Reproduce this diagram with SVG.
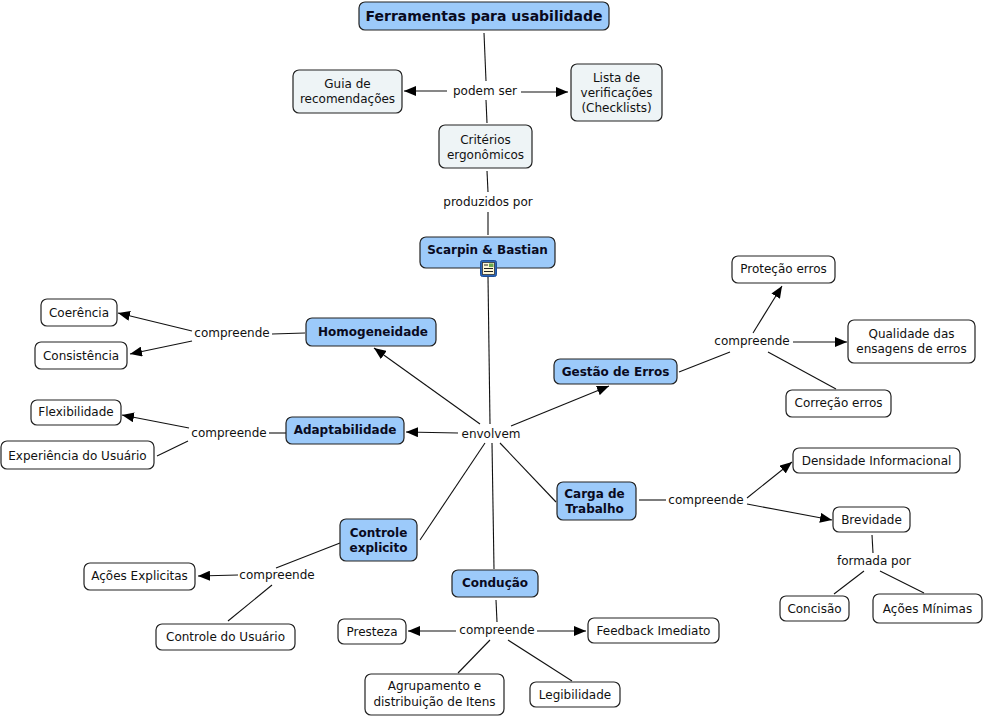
<svg xmlns="http://www.w3.org/2000/svg" width="984" height="718" viewBox="0 0 984 718">
<defs>
<marker id="ah" viewBox="0 0 12 10" refX="12" refY="5" markerWidth="12" markerHeight="10" markerUnits="userSpaceOnUse" orient="auto">
<path d="M0,0 L12,5 L0,10 Z" fill="#000"/>
</marker>
<style>
.b{fill:#9ccafa;stroke:#222;stroke-width:1.2}
.g{fill:#eef4f6;stroke:#222;stroke-width:1.2}
.w{fill:#fff;stroke:#222;stroke-width:1.2}
text{font-family:"DejaVu Sans",Verdana,sans-serif;font-size:12px;fill:#111;text-anchor:middle}
.t{font-weight:bold;fill:#0a0a1e}
.big{font-size:14px}
.l{fill:#111}
#connectors line{stroke:#111;stroke-width:1.1}
#connectors line.a{marker-end:url(#ah)}
</style>
</defs>
<rect width="984" height="718" fill="#fff"/>
<g id="connectors">
<line x1="484" y1="33" x2="486" y2="81"/>
<line x1="486" y1="100" x2="487" y2="123"/>
<line class="a" x1="447" y1="91" x2="404" y2="91"/>
<line class="a" x1="521" y1="92" x2="568" y2="92"/>
<line x1="487" y1="171" x2="488" y2="192"/>
<line x1="488" y1="212" x2="488" y2="235"/>
<line x1="488" y1="277" x2="490" y2="424"/>
<line class="a" x1="480" y1="424" x2="374" y2="348"/>
<line class="a" x1="458" y1="433" x2="406" y2="432"/>
<line class="a" x1="511" y1="426" x2="609" y2="386"/>
<line x1="500" y1="443" x2="556" y2="502"/>
<line x1="485" y1="443" x2="420" y2="540"/>
<line x1="492" y1="443" x2="494" y2="569"/>
<line x1="305" y1="333" x2="272" y2="334"/>
<line class="a" x1="192" y1="331" x2="118" y2="313"/>
<line class="a" x1="192" y1="341" x2="130" y2="354"/>
<line x1="286" y1="433" x2="269" y2="433"/>
<line class="a" x1="189" y1="428" x2="122" y2="415"/>
<line x1="188" y1="441" x2="157" y2="456"/>
<line x1="679" y1="372" x2="730" y2="352"/>
<line class="a" x1="753" y1="333" x2="782" y2="286"/>
<line class="a" x1="793" y1="342" x2="847" y2="342"/>
<line x1="768" y1="352" x2="836" y2="389"/>
<line x1="639" y1="500" x2="666" y2="500"/>
<line class="a" x1="747" y1="498" x2="792" y2="462"/>
<line class="a" x1="747" y1="504" x2="832" y2="520"/>
<line x1="872" y1="535" x2="873" y2="553"/>
<line x1="864" y1="571" x2="834" y2="594"/>
<line x1="880" y1="571" x2="924" y2="593"/>
<line x1="340" y1="543" x2="276" y2="568"/>
<line class="a" x1="238" y1="575" x2="198" y2="576"/>
<line x1="272" y1="585" x2="228" y2="621"/>
<line x1="496" y1="600" x2="497" y2="622"/>
<line class="a" x1="456" y1="631" x2="408" y2="631"/>
<line class="a" x1="537" y1="631" x2="586" y2="631"/>
<line x1="490" y1="640" x2="458" y2="673"/>
<line x1="508" y1="640" x2="572" y2="681"/>
</g>
<g id="labels">
<text class="l" x="485" y="95">podem ser</text>
<text class="l" x="488" y="206">produzidos por</text>
<text class="l" x="491" y="438">envolvem</text>
<text class="l" x="232" y="337">compreende</text>
<text class="l" x="229" y="437">compreende</text>
<text class="l" x="752" y="345">compreende</text>
<text class="l" x="706" y="504">compreende</text>
<text class="l" x="874" y="565">formada por</text>
<text class="l" x="277" y="579">compreende</text>
<text class="l" x="497" y="634">compreende</text>
</g>
<g id="n-ferramentas"><rect class="b" x="359" y="2" width="250" height="28" rx="6"/><text class="t big" x="484" y="21">Ferramentas para usabilidade</text></g>
<g id="n-guia"><rect class="g" x="293" y="70" width="109" height="43" rx="6"/><text x="347.5" y="88">Guia de</text><text x="347.5" y="103">recomendações</text></g>
<g id="n-lista"><rect class="g" x="571" y="64" width="91" height="57" rx="6"/><text x="616.5" y="82">Lista de</text><text x="616.5" y="97">verificações</text><text x="616.5" y="112">(Checklists)</text></g>
<g id="n-criterios"><rect class="g" x="439" y="125" width="93" height="43" rx="6"/><text x="485.5" y="144">Critérios</text><text x="485.5" y="159">ergonômicos</text></g>
<g id="n-scarpin"><rect class="b" x="420" y="237" width="135" height="31" rx="6"/><text class="t" x="487.5" y="254">Scarpin &amp; Bastian</text>
<rect x="480.5" y="260.5" width="16" height="16" rx="2" fill="#2b65b8" stroke="#1d4f99"/><rect x="482.5" y="262.5" width="12" height="12" fill="#fdf6d6" stroke="#333" stroke-width="0.8"/><rect x="489" y="263.5" width="4.5" height="3.5" fill="#6aa84f"/><line x1="484" y1="265" x2="488" y2="265" stroke="#222"/><line x1="484" y1="268.5" x2="493" y2="268.5" stroke="#222"/><line x1="484" y1="271.5" x2="493" y2="271.5" stroke="#222"/></g>
<g id="n-homogeneidade"><rect class="b" x="306" y="318" width="130" height="28" rx="6"/><text class="t" x="373" y="336">Homogeneidade</text></g>
<g id="n-coerencia"><rect class="w" x="41" y="299" width="76" height="27" rx="6"/><text x="79" y="317">Coerência</text></g>
<g id="n-consistencia"><rect class="w" x="35" y="342" width="92" height="27" rx="6"/><text x="81" y="360">Consistência</text></g>
<g id="n-flexibilidade"><rect class="w" x="31" y="400" width="90" height="25" rx="6"/><text x="76" y="416">Flexibilidade</text></g>
<g id="n-experiencia"><rect class="w" x="1" y="441" width="153" height="28" rx="6"/><text x="77.5" y="460">Experiência do Usuário</text></g>
<g id="n-adaptabilidade"><rect class="b" x="286" y="417" width="118" height="27" rx="6"/><text class="t" x="345" y="434">Adaptabilidade</text></g>
<g id="n-gestao"><rect class="b" x="554" y="359" width="123" height="25" rx="6"/><text class="t" x="615.5" y="376">Gestão de Erros</text></g>
<g id="n-protecao"><rect class="w" x="732" y="256" width="103" height="27" rx="6"/><text x="783.5" y="273">Proteção erros</text></g>
<g id="n-qualidade"><rect class="w" x="848" y="320" width="127" height="43" rx="6"/><text x="911.5" y="338">Qualidade das</text><text x="911.5" y="353">ensagens de erros</text></g>
<g id="n-correcao"><rect class="w" x="786" y="390" width="105" height="27" rx="6"/><text x="838.5" y="407">Correção erros</text></g>
<g id="n-carga"><rect class="b" x="557" y="482" width="79" height="38" rx="6"/><text class="t" x="594.5" y="498">Carga de</text><text class="t" x="594.5" y="513">Trabalho</text></g>
<g id="n-densidade"><rect class="w" x="793" y="448" width="167" height="25" rx="6"/><text x="876.5" y="465">Densidade Informacional</text></g>
<g id="n-brevidade"><rect class="w" x="833" y="507" width="77" height="25" rx="6"/><text x="871.5" y="524">Brevidade</text></g>
<g id="n-concisao"><rect class="w" x="780" y="596" width="69" height="25" rx="6"/><text x="814.5" y="613">Concisão</text></g>
<g id="n-acoesminimas"><rect class="w" x="873" y="594" width="109" height="29" rx="6"/><text x="927.5" y="613">Ações Mínimas</text></g>
<g id="n-controle"><rect class="b" x="340" y="519" width="77" height="42" rx="6"/><text class="t" x="378.5" y="537">Controle</text><text class="t" x="378.5" y="552">explicito</text></g>
<g id="n-acoesexplicitas"><rect class="w" x="84" y="563" width="111" height="27" rx="6"/><text x="139.5" y="580">Ações Explicitas</text></g>
<g id="n-controleusuario"><rect class="w" x="156" y="624" width="139" height="26" rx="6"/><text x="225.5" y="641">Controle do Usuário</text></g>
<g id="n-conducao"><rect class="b" x="452" y="570" width="86" height="27" rx="6"/><text class="t" x="495" y="587">Condução</text></g>
<g id="n-presteza"><rect class="w" x="338" y="619" width="68" height="25" rx="6"/><text x="372" y="636">Presteza</text></g>
<g id="n-feedback"><rect class="w" x="588" y="618" width="131" height="25" rx="6"/><text x="653.5" y="635">Feedback Imediato</text></g>
<g id="n-agrupamento"><rect class="w" x="365" y="674" width="139" height="41" rx="6"/><text x="434.5" y="690">Agrupamento e</text><text x="434.5" y="706">distribuição de Itens</text></g>
<g id="n-legibilidade"><rect class="w" x="530" y="682" width="90" height="25" rx="6"/><text x="575" y="699">Legibilidade</text></g>
</svg>
